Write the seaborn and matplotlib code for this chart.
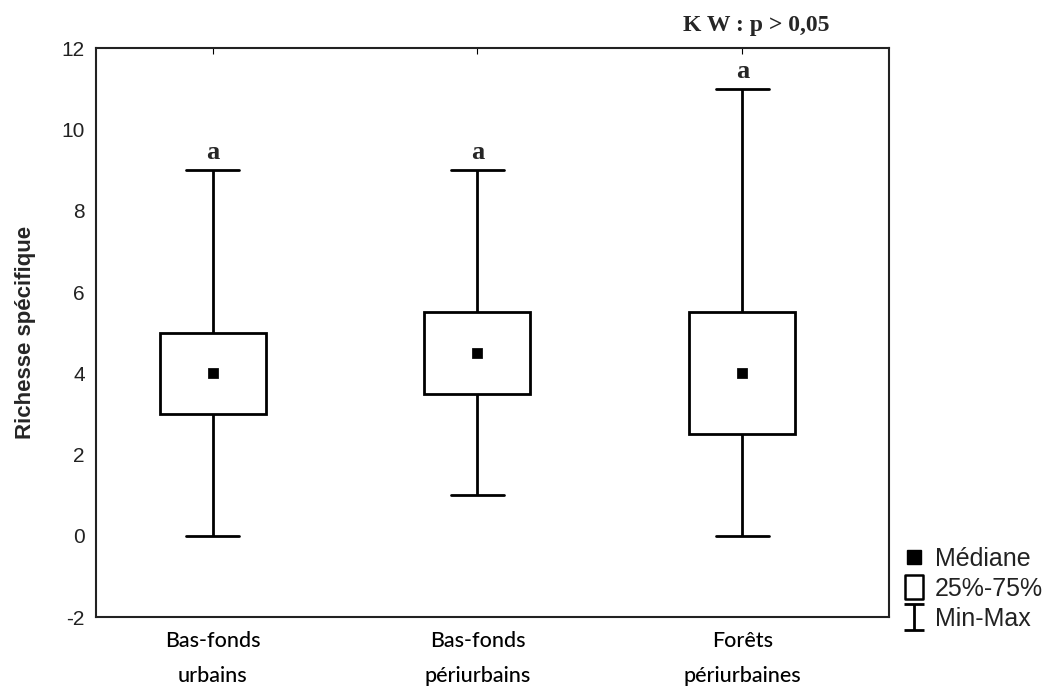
import numpy as np
import pandas as pd
import matplotlib
matplotlib.use("Agg")
import matplotlib.pyplot as plt
from matplotlib.lines import Line2D
from matplotlib.path import Path
import seaborn as sns

# ---- data (five-number summaries) ----
categories = ["Bas-fonds\nurbains", "Bas-fonds\npériurbains", "Forêts\npériurbaines"]
minimum = [0, 1, 0]
q1 = [3, 3.5, 2.5]
median = [4, 4.5, 4]
q3 = [5, 5.5, 5.5]
maximum = [9, 9, 11]
letters = ["a", "a", "a"]
yticks = [-2, 0, 2, 4, 6, 8, 10, 12]

rows = []
for c, a, b, m, d, e in zip(categories, minimum, q1, median, q3, maximum):
    for v in (a, b, m, d, e):
        rows.append({"site": c, "val": v})
df = pd.DataFrame(rows)
med_df = pd.DataFrame({"site": categories, "val": median})

sns.set_style("white")
plt.rcParams["font.family"] = ["Liberation Sans", "DejaVu Sans"]

fig = plt.figure(figsize=(10.58, 6.88), dpi=100)
ax = fig.add_axes([0.0907, 0.103, 0.750, 0.827])

sns.boxplot(data=df, x="site", y="val", order=categories, whis=(0, 100),
            width=0.4, color="white", linecolor="black", linewidth=2,
            medianprops={"visible": False}, ax=ax)
sns.scatterplot(data=med_df, x="site", y="val", marker="s", s=45,
                color="black", edgecolor="black", zorder=5, ax=ax, legend=False)

for i, (mx, let) in enumerate(zip(maximum, letters)):
    ax.text(i, mx + 0.15, let, ha="center", va="bottom", fontsize=19,
            fontweight="bold", family="Liberation Serif")

ax.set_xlim(-0.44, 2.555)
ax.set_ylim(-2, 12)
ax.set_yticks(yticks)
ax.set_yticklabels([str(t) for t in yticks], fontsize=15, color="#222222")
ax.set_xlabel("")
ax.set_ylabel("Richesse spécifique", fontsize=16, fontweight="bold", labelpad=18)
ax.set_xticks(range(len(categories)))
ax.set_xticklabels(categories, fontsize=15.5, family="Lato", fontweight="medium",
                   linespacing=1.95)
ax.tick_params(axis="x", direction="in", length=4, top=True, pad=10, colors="black")
ax.tick_params(axis="y", direction="in", length=4, pad=8)
for sp in ax.spines.values():
    sp.set_visible(True)
    sp.set_color("#222222")
    sp.set_linewidth(1.5)

fig.text(0.715, 0.963, "K W : p > 0,05", ha="center", va="center", fontsize=17,
         fontweight="bold", family="Liberation Serif")

# legend
minmax_path = Path([(-0.38, -0.5), (0.38, -0.5), (0, -0.5), (0, 0.5), (-0.38, 0.5), (0.38, 0.5)],
                   [Path.MOVETO, Path.LINETO, Path.MOVETO, Path.LINETO, Path.MOVETO, Path.LINETO])
box_path = Path([(-0.4, -0.5), (0.4, -0.5), (0.4, 0.5), (-0.4, 0.5), (-0.4, -0.5)],
                [Path.MOVETO, Path.LINETO, Path.LINETO, Path.LINETO, Path.CLOSEPOLY])
handles = [
    Line2D([], [], marker="s", linestyle="none", color="black", markersize=10.5),
    Line2D([], [], marker=box_path, linestyle="none", markerfacecolor="white",
           markeredgecolor="black", markeredgewidth=1.8, markersize=17),
    Line2D([], [], marker=minmax_path, linestyle="none", color="black",
           markersize=19, markeredgewidth=2),
]
leg = fig.legend(handles, ["Médiane", "25%-75%", "Min-Max"], loc="upper left",
                 bbox_to_anchor=(0.853, 0.205), frameon=False, fontsize=18,
                 handlelength=0.9, handletextpad=0.4, labelspacing=0.24,
                 borderpad=0, borderaxespad=0)
for t in leg.get_texts():
    t.set_color("#222222")

fig.savefig("out.png", dpi=100)
